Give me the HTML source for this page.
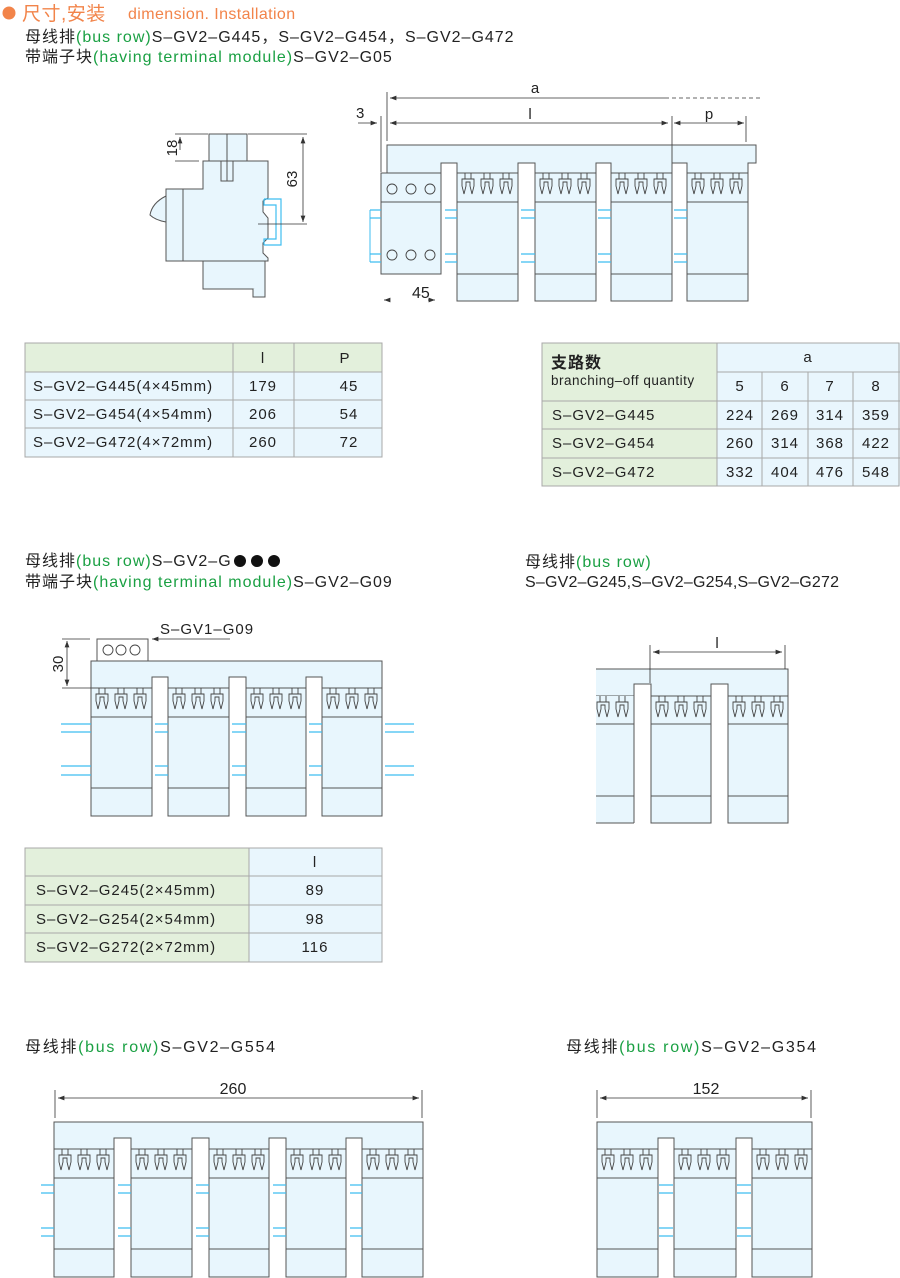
<!DOCTYPE html>
<html><head><meta charset="utf-8"><style>
html,body{margin:0;padding:0;background:#fff;}
svg{display:block;font-family:"Liberation Sans","Noto Sans CJK SC",sans-serif;}
.o{fill:#e8f6fd;stroke:#555;stroke-width:1}
.w{fill:#fff;stroke:none}
.l{stroke:#555;stroke-width:1;fill:none}
.b{stroke:#3fbdf0;stroke-width:1.2}
.d{stroke:#333;stroke-width:0.8;fill:none}
.g{fill:#e3f0dc}
.c{fill:#e9f6fd}
.tb{stroke:#a8a8a8;stroke-width:1;fill:none}
text{fill:#222}
.gr{fill:#1aa043}
.or{fill:#f2844a}
.h{font-size:16px;letter-spacing:1px}
.t{font-size:15px;letter-spacing:1px}
</style></head><body>
<svg width="900" height="1278" viewBox="0 0 900 1278" xmlns="http://www.w3.org/2000/svg">
<defs>
<path id="cl" d="M-3 0V6M3 0V6M-6 6H6V13L4 21L2 13V9H-2V13L-4 21L-6 13Z" fill="none" stroke="#444" stroke-width="0.9"/>
<g id="c3"><use href="#cl" x="11" y="0"/><use href="#cl" x="30" y="0"/><use href="#cl" x="49" y="0"/></g>
<marker id="ar" viewBox="0 0 8 6" refX="8" refY="3" markerWidth="8" markerHeight="6" orient="auto-start-reverse"><path d="M0 0L8 3L0 6Z" fill="#333"/></marker>
</defs>

<!-- Header -->
<circle cx="9" cy="13" r="6.5" fill="#f2844a"/>
<text x="22" y="20" font-size="19" class="or" letter-spacing="0.5">尺寸,安装</text>
<text x="128" y="19" font-size="16" class="or" letter-spacing="0.4">dimension. Installation</text>
<text x="25" y="42" class="h">母线排<tspan class="gr">(bus row)</tspan>S–GV2–G445，S–GV2–G454，S–GV2–G472</text>
<text x="25" y="62" class="h">带端子块<tspan class="gr">(having terminal module)</tspan>S–GV2–G05</text>

<!-- Side view -->
<path class="o" d="M150 215 Q152 203 166 196 V222 Q155 220 150 215Z"/>
<rect class="o" x="166" y="189" width="17" height="72"/>
<rect class="o" x="203" y="261" width="62" height="28"/>
<path class="o" d="M253 289 V297 H265 V285"/>
<path class="o" d="M183 189 H203 V161 H268 V198 L263 201 V212 L268 218 V238 L263 243 V253 L268 258 V261 H183Z"/>
<rect class="o" x="209" y="134" width="38" height="27"/>
<line class="l" x1="227" y1="134" x2="227" y2="161"/>
<rect class="o" x="221" y="161" width="12" height="20"/>
<line class="l" x1="227" y1="161" x2="227" y2="181"/>
<path d="M264 199 H281 V245 H264 M264 199 V205 H276 V239 H264 V245" fill="none" stroke="#3fbdf0" stroke-width="1.2"/>
<line class="d" x1="258" y1="224" x2="307" y2="224"/>
<line class="d" x1="175" y1="134" x2="208" y2="134"/>
<line class="d" x1="175" y1="161" x2="199" y2="161"/>
<line class="d" x1="180" y1="150" x2="180" y2="137" marker-end="url(#ar)"/>
<text x="177" y="148" font-size="15" transform="rotate(-90 177 148)" text-anchor="middle">18</text>
<line class="d" x1="248" y1="134" x2="307" y2="134"/>
<line class="d" x1="303" y1="137" x2="303" y2="222" marker-start="url(#ar)" marker-end="url(#ar)"/>
<text x="297" y="179" font-size="15" transform="rotate(-90 297 179)" text-anchor="middle">63</text>

<!-- Top right assembly -->
<path class="o" d="M387 145 H756 V163 H748 V173 H387Z"/>
<line class="l" x1="672" y1="145" x2="672" y2="163"/>
<rect class="o" x="381" y="173" width="60" height="101"/>
<line class="l" x1="381" y1="202" x2="441" y2="202"/>
<g fill="none" stroke="#444" stroke-width="0.9">
<circle cx="392" cy="189" r="5"/><circle cx="411" cy="189" r="5"/><circle cx="430" cy="189" r="5"/>
<circle cx="392" cy="255" r="5"/><circle cx="411" cy="255" r="5"/><circle cx="430" cy="255" r="5"/>
</g>
<rect class="o" x="457" y="173" width="61" height="128"/>
<rect class="o" x="535" y="173" width="61" height="128"/>
<rect class="o" x="611" y="173" width="61" height="128"/>
<rect class="o" x="687" y="173" width="61" height="128"/>
<rect class="w" x="441.5" y="163.5" width="15" height="140"/>
<rect class="w" x="518.5" y="163.5" width="16" height="140"/>
<rect class="w" x="596.5" y="163.5" width="14" height="140"/>
<rect class="w" x="672.5" y="163.5" width="14" height="140"/>
<path class="l" d="M441 174 V163 H457 V173 M518 301 V163 H535 V301 M596 301 V163 H611 V301 M672 301 V163 H687 V301"/>
<path class="l" d="M457 202 H518 M535 202 H596 M611 202 H672 M687 202 H748 M457 274 H518 M535 274 H596 M611 274 H672 M687 274 H748"/>
<line class="l" x1="381" y1="173" x2="441" y2="173"/>
<use href="#c3" x="457" y="173"/><use href="#c3" x="535" y="173"/><use href="#c3" x="611" y="173"/><use href="#c3" x="687" y="173"/>
<path class="b" d="M370 210H381M370 218H381M370 254H381M370 262H381
M445 210H457M445 218H457M445 254H457M445 262H457
M521 210H535M521 218H535M521 254H535M521 262H535
M598 210H611M598 218H611M598 254H611M598 262H611
M674 210H687M674 218H687M674 254H687M674 262H687"/>
<line x1="370" y1="210" x2="370" y2="262" stroke="#3fbdf0"/>
<!-- dims -->
<line class="d" x1="387" y1="92" x2="387" y2="141"/>
<line class="d" x1="381" y1="116" x2="381" y2="172"/>
<line class="d" x1="665" y1="98" x2="390" y2="98" marker-end="url(#ar)"/>
<line class="d" x1="665" y1="98" x2="762" y2="98" stroke-dasharray="4 3"/>
<text x="535" y="93" font-size="15" text-anchor="middle">a</text>
<line class="d" x1="390" y1="123" x2="668" y2="123" marker-start="url(#ar)" marker-end="url(#ar)"/>
<text x="530" y="119" font-size="15" text-anchor="middle">l</text>
<line class="d" x1="672" y1="116" x2="672" y2="145"/>
<line class="d" x1="746" y1="116" x2="746" y2="142"/>
<line class="d" x1="674" y1="123" x2="744" y2="123" marker-start="url(#ar)" marker-end="url(#ar)"/>
<text x="709" y="119" font-size="15" text-anchor="middle">p</text>
<text x="356" y="118" font-size="15">3</text>
<line class="d" x1="358" y1="123" x2="377" y2="123" marker-end="url(#ar)"/>
<text x="412" y="298" font-size="16">45</text>
<line class="d" x1="384" y1="300" x2="389" y2="300" marker-start="url(#ar)"/>
<line class="d" x1="428" y1="300" x2="435" y2="300" marker-end="url(#ar)"/>

<!-- Table 1 -->
<rect class="g" x="25" y="343" width="357" height="29"/>
<rect class="c" x="25" y="372" width="357" height="85"/>
<g class="tb"><rect x="25" y="343" width="357" height="114"/>
<path d="M25 372H382M25 400H382M25 428H382M233 343V457M294 343V457"/></g>
<g class="t">
<text x="263" y="363" text-anchor="middle">l</text><text x="345" y="363" text-anchor="middle">P</text>
<text x="33" y="391">S–GV2–G445(4×45mm)</text><text x="263" y="391" text-anchor="middle">179</text><text x="349" y="391" text-anchor="middle">45</text>
<text x="33" y="419">S–GV2–G454(4×54mm)</text><text x="263" y="419" text-anchor="middle">206</text><text x="349" y="419" text-anchor="middle">54</text>
<text x="33" y="447">S–GV2–G472(4×72mm)</text><text x="263" y="447" text-anchor="middle">260</text><text x="349" y="447" text-anchor="middle">72</text>
</g>

<!-- Table 2 -->
<rect class="g" x="542" y="343" width="175" height="143"/>
<rect class="c" x="717" y="343" width="183" height="143"/>
<g class="tb"><rect x="542" y="343" width="357" height="143"/>
<path d="M717 372H900M542 401H900M542 429H900M542 458H900M717 343V486M762 372V486M808 372V486M853 372V486"/></g>
<g class="t">
<text x="551" y="368" font-weight="bold" font-size="16">支路数</text>
<text x="551" y="385" font-size="13.5" letter-spacing="0.5">branching–off quantity</text>
<text x="808" y="362" text-anchor="middle">a</text>
<text x="740" y="391" text-anchor="middle">5</text><text x="785" y="391" text-anchor="middle">6</text><text x="830" y="391" text-anchor="middle">7</text><text x="876" y="391" text-anchor="middle">8</text>
<text x="552" y="420">S–GV2–G445</text><text x="740" y="420" text-anchor="middle">224</text><text x="785" y="420" text-anchor="middle">269</text><text x="830" y="420" text-anchor="middle">314</text><text x="876" y="420" text-anchor="middle">359</text>
<text x="552" y="448">S–GV2–G454</text><text x="740" y="448" text-anchor="middle">260</text><text x="785" y="448" text-anchor="middle">314</text><text x="830" y="448" text-anchor="middle">368</text><text x="876" y="448" text-anchor="middle">422</text>
<text x="552" y="477">S–GV2–G472</text><text x="740" y="477" text-anchor="middle">332</text><text x="785" y="477" text-anchor="middle">404</text><text x="830" y="477" text-anchor="middle">476</text><text x="876" y="477" text-anchor="middle">548</text>
</g>

<!-- Section 2 titles -->
<text x="25" y="566" class="h" letter-spacing="0.7">母线排<tspan class="gr">(bus row)</tspan>S–GV2–G</text>
<circle cx="240" cy="561" r="6" fill="#111"/><circle cx="257" cy="561" r="6" fill="#111"/><circle cx="274" cy="561" r="6" fill="#111"/>
<text x="25" y="587" class="h">带端子块<tspan class="gr">(having terminal module)</tspan>S–GV2–G09</text>
<text x="525" y="567" class="h">母线排<tspan class="gr">(bus row)</tspan></text>
<text x="525" y="587" font-size="16" letter-spacing="0.2">S–GV2–G245,S–GV2–G254,S–GV2–G272</text>

<!-- Diagram 3 -->
<rect x="97" y="639" width="51" height="22" fill="#fff" stroke="#555"/>
<g fill="none" stroke="#444" stroke-width="0.9"><circle cx="108" cy="650" r="5"/><circle cx="121" cy="650" r="5"/><circle cx="135" cy="650" r="5"/></g>
<rect class="o" x="91" y="661" width="291" height="27"/>
<rect class="o" x="91" y="688" width="61" height="128"/>
<rect class="o" x="168" y="688" width="61" height="128"/>
<rect class="o" x="246" y="688" width="60" height="128"/>
<rect class="o" x="322" y="688" width="60" height="128"/>
<rect class="w" x="152.5" y="677.5" width="15" height="140"/>
<rect class="w" x="229.5" y="677.5" width="16" height="140"/>
<rect class="w" x="306.5" y="677.5" width="15" height="140"/>
<path class="l" d="M152 816V677H168V816M229 816V677H246V816M306 816V677H322V816"/>
<path class="l" d="M91 717H152M168 717H229M246 717H306M322 717H382M91 788H152M168 788H229M246 788H306M322 788H382"/>
<use href="#c3" x="91" y="688"/><use href="#c3" x="168" y="688"/><use href="#c3" x="246" y="688"/><use href="#c3" x="322" y="688"/>
<path class="b" d="M61 724H91M61 732H91M61 766H91M61 775H91
M155 724H168M155 732H168M155 766H168M155 775H168
M232 724H246M232 732H246M232 766H246M232 775H246
M309 724H322M309 732H322M309 766H322M309 775H322
M385 724H414M385 732H414M385 766H414M385 775H414"/>
<line class="d" x1="62" y1="639" x2="90" y2="639"/>
<line class="d" x1="62" y1="688" x2="91" y2="688"/>
<line class="d" x1="67" y1="641" x2="67" y2="686" marker-start="url(#ar)" marker-end="url(#ar)"/>
<text x="63" y="664" font-size="15" transform="rotate(-90 63 664)" text-anchor="middle">30</text>
<line class="d" x1="230" y1="639" x2="152" y2="639" marker-end="url(#ar)"/>
<text x="160" y="634" class="t">S–GV1–G09</text>

<!-- Diagram 4 -->
<rect x="596" y="669" width="192" height="27" fill="#e8f6fd"/>
<path class="l" d="M596 669H788V823M596 696H634M651 696H711M728 696H788"/>
<rect x="596" y="696" width="38" height="127" fill="#e8f6fd"/>
<rect class="o" x="651" y="696" width="60" height="127"/>
<rect class="o" x="728" y="696" width="60" height="127"/>
<rect class="w" x="634.5" y="684.5" width="16" height="140"/>
<rect class="w" x="711.5" y="684.5" width="16" height="140"/>
<path class="l" d="M634 823V684H651V823M711 823V684H728V823M596 823H634"/>
<path class="l" d="M596 724H634M651 724H711M728 724H788M596 796H634M651 796H711M728 796H788"/>
<use href="#cl" x="603" y="696"/><use href="#cl" x="622" y="696"/>
<use href="#c3" x="651" y="696"/><use href="#c3" x="728" y="696"/>
<line class="d" x1="650" y1="645" x2="650" y2="683"/>
<line class="d" x1="785" y1="645" x2="785" y2="669"/>
<line class="d" x1="653" y1="652" x2="782" y2="652" marker-start="url(#ar)" marker-end="url(#ar)"/>
<text x="717" y="648" font-size="15" text-anchor="middle">l</text>

<!-- Table 3 -->
<rect class="g" x="25" y="848" width="224" height="114"/>
<rect class="c" x="249" y="848" width="133" height="114"/>
<g class="tb"><rect x="25" y="848" width="357" height="114"/>
<path d="M25 876H382M25 905H382M25 933H382M249 848V962"/></g>
<g class="t">
<text x="315" y="867" text-anchor="middle">l</text>
<text x="36" y="895">S–GV2–G245(2×45mm)</text><text x="315" y="895" text-anchor="middle">89</text>
<text x="36" y="924">S–GV2–G254(2×54mm)</text><text x="315" y="924" text-anchor="middle">98</text>
<text x="36" y="952">S–GV2–G272(2×72mm)</text><text x="315" y="952" text-anchor="middle">116</text>
</g>

<!-- Bottom titles -->
<text x="25" y="1052" font-size="16" letter-spacing="1.7">母线排<tspan class="gr">(bus row)</tspan>S–GV2–G554</text>
<text x="566" y="1052" font-size="16" letter-spacing="1.7">母线排<tspan class="gr">(bus row)</tspan>S–GV2–G354</text>

<!-- Diagram 5 -->
<line class="d" x1="55" y1="1090" x2="55" y2="1118"/>
<line class="d" x1="422" y1="1090" x2="422" y2="1118"/>
<line class="d" x1="58" y1="1098" x2="419" y2="1098" marker-start="url(#ar)" marker-end="url(#ar)"/>
<text x="233" y="1094" font-size="16" text-anchor="middle">260</text>
<rect class="o" x="54" y="1122" width="369" height="27"/>
<rect class="o" x="54" y="1149" width="60" height="128"/>
<rect class="o" x="131" y="1149" width="61" height="128"/>
<rect class="o" x="209" y="1149" width="60" height="128"/>
<rect class="o" x="286" y="1149" width="60" height="128"/>
<rect class="o" x="362" y="1149" width="61" height="128"/>
<rect class="w" x="114.5" y="1138.5" width="16" height="140"/>
<rect class="w" x="192.5" y="1138.5" width="16" height="140"/>
<rect class="w" x="269.5" y="1138.5" width="16" height="140"/>
<rect class="w" x="346.5" y="1138.5" width="15" height="140"/>
<path class="l" d="M114 1277V1138H131V1277M192 1277V1138H209V1277M269 1277V1138H286V1277M346 1277V1138H362V1277"/>
<path class="l" d="M54 1178H114M131 1178H192M209 1178H269M286 1178H346M362 1178H423M54 1249H114M131 1249H192M209 1249H269M286 1249H346M362 1249H423"/>
<use href="#c3" x="54" y="1149"/><use href="#c3" x="131" y="1149"/><use href="#c3" x="209" y="1149"/><use href="#c3" x="286" y="1149"/><use href="#c3" x="362" y="1149"/>
<path class="b" d="M41 1185H54M41 1193H54M41 1228H54M41 1236H54
M118 1185H131M118 1193H131M118 1228H131M118 1236H131
M196 1185H209M196 1193H209M196 1228H209M196 1236H209
M273 1185H286M273 1193H286M273 1228H286M273 1236H286
M350 1185H362M350 1193H362M350 1228H362M350 1236H362"/>

<!-- Diagram 6 -->
<line class="d" x1="597" y1="1090" x2="597" y2="1118"/>
<line class="d" x1="811" y1="1090" x2="811" y2="1118"/>
<line class="d" x1="600" y1="1098" x2="808" y2="1098" marker-start="url(#ar)" marker-end="url(#ar)"/>
<text x="706" y="1094" font-size="16" text-anchor="middle">152</text>
<rect class="o" x="597" y="1122" width="215" height="27"/>
<rect class="o" x="597" y="1149" width="61" height="128"/>
<rect class="o" x="674" y="1149" width="62" height="128"/>
<rect class="o" x="752" y="1149" width="60" height="128"/>
<rect class="w" x="658.5" y="1138.5" width="15" height="140"/>
<rect class="w" x="736.5" y="1138.5" width="15" height="140"/>
<path class="l" d="M658 1277V1138H674V1277M736 1277V1138H752V1277"/>
<path class="l" d="M597 1178H658M674 1178H736M752 1178H812M597 1249H658M674 1249H736M752 1249H812"/>
<use href="#c3" x="597" y="1149"/><use href="#c3" x="674" y="1149"/><use href="#c3" x="752" y="1149"/>
<path class="b" d="M659 1185H673M659 1193H673M659 1228H673M659 1236H673M737 1185H751M737 1193H751M737 1228H751M737 1236H751"/>
</svg>
</body></html>
